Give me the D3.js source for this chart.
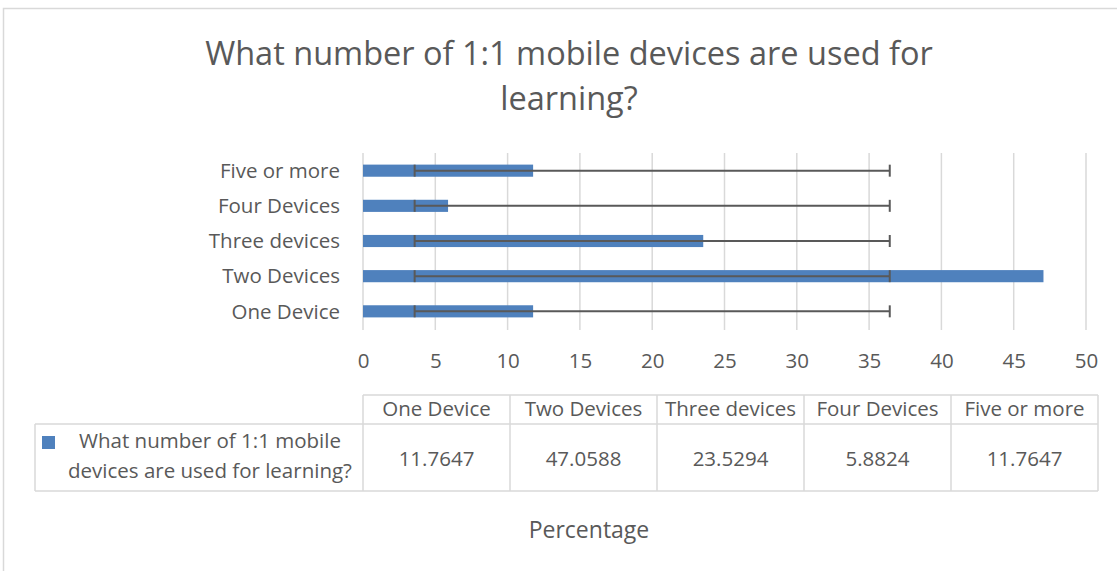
<!DOCTYPE html>
<html>
<head>
<meta charset="utf-8">
<script src="https://cdn.jsdelivr.net/npm/d3@7"></script>
<style>
  html, body { margin: 0; padding: 0; background: #fff; }
  svg { display: block; font-family: "Open Sans", "Noto Sans", sans-serif; }
</style>
</head>
<body>
<svg id="chart" width="1117" height="571"></svg>
<script>
// Survey answers: share of respondents (percent) by number of 1:1 devices
const categories = ["One Device", "Two Devices", "Three devices", "Four Devices", "Five or more"];
const values = [11.7647, 47.0588, 23.5294, 5.8824, 11.7647];
const valueLabels = ["11.7647", "47.0588", "23.5294", "5.8824", "11.7647"];
const xTicks = [0, 5, 10, 15, 20, 25, 30, 35, 40, 45, 50];
const seriesName = "What number of 1:1 mobile devices are used for learning?";
const titleLines = ["What number of 1:1 mobile devices are used for", "learning?"];
const legendLines = ["What number of 1:1 mobile", "devices are used for learning?"];
const axisTitle = "Percentage";

const svg = d3.select("#chart");
const textColor = "#595959";
const gridColor = "#d9d9d9";
const barColor = "#4f81bd";
const errColor = "#595959";

// Outer chart frame
svg.append("rect")
  .attr("x", 3.5).attr("y", 8.5)
  .attr("width", 1200).attr("height", 700)
  .attr("fill", "none").attr("stroke", gridColor).attr("stroke-width", 1.5);

// Title
svg.append("g").selectAll("text").data(titleLines).join("text")
  .attr("x", 569).attr("y", (d, i) => 65 + i * 45)
  .attr("text-anchor", "middle")
  .attr("font-size", 32.5)
  .attr("fill", textColor)
  .text(d => d);

// Scales
const x = d3.scaleLinear().domain([0, 50]).range([363, 1086]);
const yOrder = categories.slice().reverse(); // first category at bottom
const y = d3.scaleBand().domain(yOrder).range([153, 329]).paddingInner(0.655).paddingOuter(0.33);

// Vertical gridlines
svg.append("g").selectAll("line").data(xTicks).join("line")
  .attr("x1", d => x(d)).attr("x2", d => x(d))
  .attr("y1", 153).attr("y2", 330)
  .attr("stroke", gridColor).attr("stroke-width", 1.5);

// Bars
svg.append("g").selectAll("rect").data(categories).join("rect")
  .attr("x", x(0))
  .attr("y", d => y(d))
  .attr("width", (d, i) => x(values[i]) - x(0))
  .attr("height", y.bandwidth())
  .attr("fill", barColor);

// Error bars: series mean ± one sample standard deviation
const mean = d3.mean(values);
const sd = d3.deviation(values);
const lo = mean - sd, hi = mean + sd;
const eg = svg.append("g").attr("stroke", errColor).attr("stroke-width", 2);
categories.forEach(c => {
  const cy = y(c) + y.bandwidth() / 2;
  eg.append("line").attr("x1", x(lo)).attr("x2", x(hi)).attr("y1", cy).attr("y2", cy);
  [lo, hi].forEach(v => {
    eg.append("line").attr("x1", x(v)).attr("x2", x(v))
      .attr("y1", cy - 6).attr("y2", cy + 6);
  });
});

// Category axis labels
svg.append("g").selectAll("text").data(categories).join("text")
  .attr("x", 340)
  .attr("y", d => y(d) + y.bandwidth() / 2)
  .attr("dy", "0.35em")
  .attr("text-anchor", "end")
  .attr("font-size", 20.5)
  .attr("fill", textColor)
  .text(d => d);

// Value axis tick labels
const xAxis = d3.axisBottom(x).tickValues(xTicks).tickSize(0).tickPadding(0);
const xg = svg.append("g").attr("transform", "translate(0,368)").call(xAxis);
xg.select(".domain").remove();
xg.selectAll("text")
  .attr("font-family", "\"Open Sans\", sans-serif")
  .attr("font-size", 20.5)
  .attr("fill", textColor)
  .attr("dy", "0");

// Data table (its own column grid, slightly wider than the plot)
const tableLeft = 363, tableRight = 1098;
const colW = (tableRight - tableLeft) / categories.length;
const colEdges = d3.range(categories.length + 1).map(i => tableLeft + i * colW);
const tHeadTop = 395, tRowTop = 424, tBottom = 491, legendLeft = 35;
const tg = svg.append("g");
const tl = tg.append("g").attr("stroke", gridColor).attr("stroke-width", 1.5).attr("fill", "none");
// horizontal rules
tl.append("line").attr("x1", tableLeft).attr("x2", tableRight).attr("y1", tHeadTop).attr("y2", tHeadTop);
tl.append("line").attr("x1", legendLeft).attr("x2", tableRight).attr("y1", tRowTop).attr("y2", tRowTop);
tl.append("line").attr("x1", legendLeft).attr("x2", tableRight).attr("y1", tBottom).attr("y2", tBottom);
// vertical rules
tl.append("line").attr("x1", legendLeft).attr("x2", legendLeft).attr("y1", tRowTop).attr("y2", tBottom);
colEdges.forEach(cx => {
  tl.append("line").attr("x1", cx).attr("x2", cx).attr("y1", tHeadTop).attr("y2", tBottom);
});

// header cells
tg.append("g").selectAll("text").data(categories).join("text")
  .attr("x", (d, i) => (colEdges[i] + colEdges[i + 1]) / 2)
  .attr("y", 416)
  .attr("text-anchor", "middle")
  .attr("font-size", 20.5)
  .attr("fill", textColor)
  .text(d => d);

// value cells
tg.append("g").selectAll("text").data(valueLabels).join("text")
  .attr("x", (d, i) => (colEdges[i] + colEdges[i + 1]) / 2)
  .attr("y", 466)
  .attr("text-anchor", "middle")
  .attr("font-size", 20.5)
  .attr("fill", textColor)
  .text(d => d);

// legend key and series name
tg.append("rect").attr("x", 42).attr("y", 436).attr("width", 13).attr("height", 13).attr("fill", barColor);
tg.append("g").selectAll("text").data(legendLines).join("text")
  .attr("x", 210)
  .attr("y", (d, i) => 448 + i * 30)
  .attr("text-anchor", "middle")
  .attr("font-size", 20.5)
  .attr("fill", textColor)
  .text(d => d);

// Axis title
svg.append("text")
  .attr("x", 589).attr("y", 538)
  .attr("text-anchor", "middle")
  .attr("font-size", 23)
  .attr("fill", textColor)
  .text(axisTitle);
</script>
</body>
</html>
